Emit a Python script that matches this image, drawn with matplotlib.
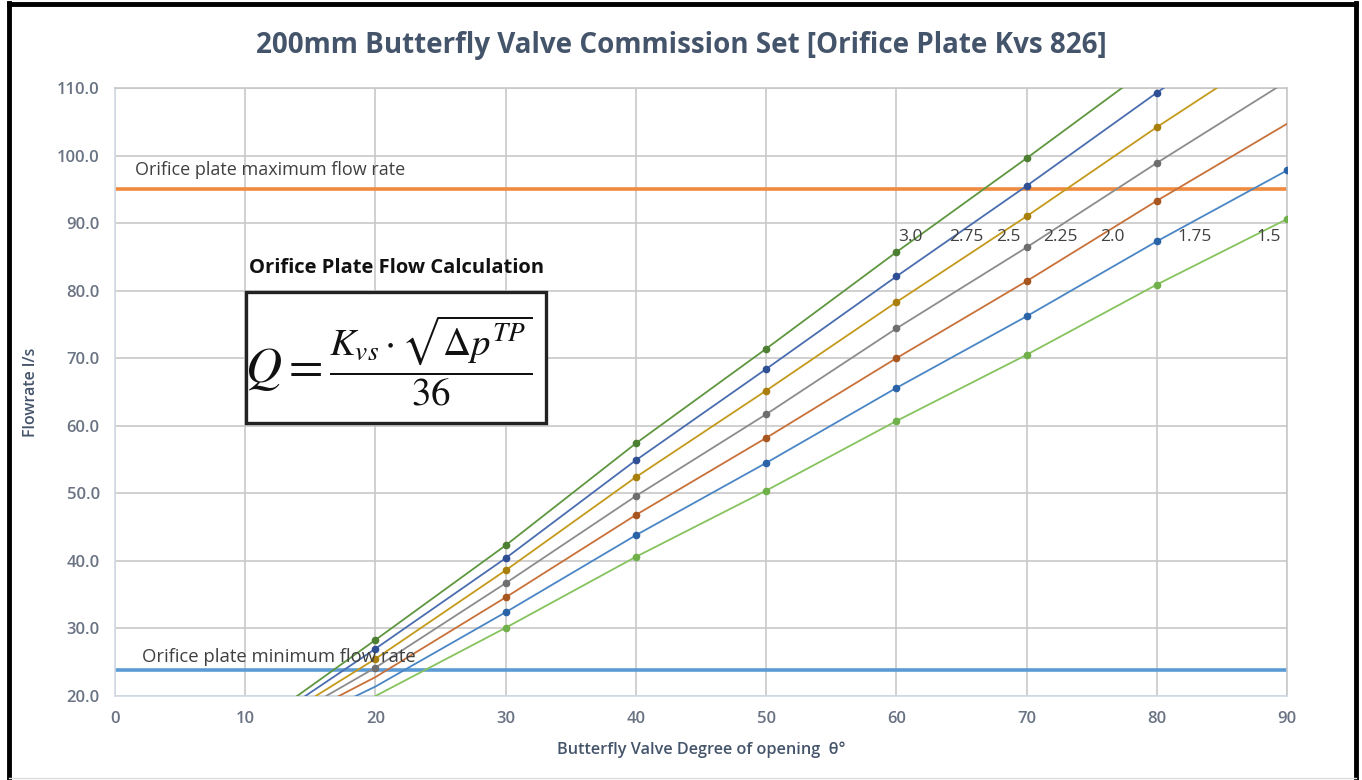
import matplotlib
matplotlib.use("Agg")
import matplotlib.pyplot as plt
from matplotlib.patches import Rectangle
import numpy as np

plt.rcParams['font.family'] = ['Open Sans', 'DejaVu Sans']
plt.rcParams['mathtext.fontset'] = 'stix'

# ---- data ----
angles = [10, 20, 30, 40, 50, 60, 70, 80, 90]
dp_labels = ["3.0", "2.75", "2.5", "2.25", "2.0", "1.75", "1.5"]
flow_30 = [14.5, 28.3, 42.3, 57.4, 71.4, 85.7, 99.6, 113.8, 128.0]
flow_275 = [14.0, 27.0, 40.4, 54.9, 68.4, 82.1, 95.5, 109.3, 122.7]
flow_25 = [13.5, 25.5, 38.6, 52.4, 65.2, 78.3, 91.0, 104.2, 116.8]
flow_225 = [13.1, 24.2, 36.7, 49.6, 61.7, 74.4, 86.4, 98.9, 111.0]
flow_20 = [12.8, 22.8, 34.6, 46.8, 58.2, 70.0, 81.4, 93.3, 104.7]
flow_175 = [12.1, 21.4, 32.4, 43.8, 54.5, 65.6, 76.2, 87.3, 97.8]
flow_15 = [10.0, 20.0, 30.1, 40.6, 50.4, 60.7, 70.5, 80.9, 90.6]
# first / last angle at which a measured point (marker) is shown
marker_first = [20, 20, 20, 20, 30, 30, 30]
marker_last = [80, 80, 80, 80, 80, 90, 90]
series = [flow_30, flow_275, flow_25, flow_225, flow_20, flow_175, flow_15]
# label positions (degree) along top-right
label_x = [61.1, 65.4, 68.6, 72.6, 76.6, 82.9, 88.6]
label_y = 87.9

max_flow = 95.0
min_flow = 23.9

colors = ["#5f9640", "#4a6db0", "#c49a1c", "#8c8c8c", "#c8713a", "#4a86c5", "#86c35e"]
mcolors = ["#4d7f32", "#2f4f95", "#a87f0c", "#6e6e6e", "#a8561f", "#2b64a6", "#6fb04a"]

fig = plt.figure(figsize=(13.62, 7.80), dpi=100)
ax = fig.add_axes([115/1362, 1-696/780, (1287-115)/1362, (696-88)/780])

ax.set_xlim(0, 90)
ax.set_ylim(20, 110)
ax.set_xticks(np.arange(0, 91, 10))
ax.set_yticks(np.arange(20, 111, 10))
ax.set_yticklabels([f"{v:.1f}" for v in np.arange(20, 111, 10)])
ax.grid(True, color="#c8c8c8", lw=1.2, zorder=0)
ax.set_axisbelow(True)
ax.tick_params(length=0, labelsize=12, labelcolor="#6a7383", pad=11)
for lab in ax.get_xticklabels() + ax.get_yticklabels():
    lab.set_fontweight("semibold")
for s in ["top", "right"]:
    ax.spines[s].set_color("#c8c8c8")
    ax.spines[s].set_linewidth(1.2)
for s in ["left", "bottom"]:
    ax.spines[s].set_color("#d3dae4")
    ax.spines[s].set_linewidth(1.2)

ax.axhline(max_flow, color="#f08a3e", lw=2.6, zorder=2)
ax.axhline(min_flow, color="#5b9bd5", lw=2.6, zorder=2)

for vals, c, mc, mf, ml in zip(series, colors, mcolors, marker_first, marker_last):
    ax.plot(angles, vals, color=c, lw=1.3, zorder=3)
    mx = [a for a in angles if mf <= a <= ml]
    my = [v for a, v in zip(angles, vals) if mf <= a <= ml]
    ax.plot(mx, my, ls="none", marker="o", ms=4.5, color=mc, zorder=4)

for lx, lab in zip(label_x, dp_labels):
    ax.text(lx, label_y, lab, ha="center", va="center", fontsize=12.5,
            color="#404040", zorder=5)

ax.text(1.5, 97.9, "Orifice plate maximum flow rate", ha="left", va="center",
        fontsize=13, color="#404040", zorder=5)
ax.text(2.1, 25.8, "Orifice plate minimum flow rate", ha="left", va="center",
        fontsize=13.3, color="#404040", zorder=5)

# formula box
ax.text(21.6, 83.35, "Orifice Plate Flow Calculation", ha="center", va="center",
        fontsize=14.5, fontweight="bold", color="#111111", zorder=6)
ax.add_patch(Rectangle((10.06, 60.4), 23.04, 19.4, facecolor="white",
                       edgecolor="#222222", lw=2.4, zorder=6))
ax.text(15.9, 68.3, r"$Q=$", ha="right", va="center", fontsize=36,
        color="#111111", zorder=7)
ax.text(24.3, 69.6, r"$\dfrac{K_{vs}\cdot\sqrt{\Delta p^{TP}}}{36}$",
        ha="center", va="center", fontsize=28, color="#111111", zorder=7)

ax.set_ylabel("Flowrate l/s", fontsize=11.5, color="#44546a", fontweight="semibold",
              labelpad=13)
ax.set_xlabel("Butterfly Valve Degree of opening  θ°", fontsize=11.7,
              color="#44546a", fontweight="semibold", labelpad=10)

fig.text(0.5, 1-45/780, "200mm Butterfly Valve Commission Set [Orifice Plate Kvs 826]",
         ha="center", va="center", fontsize=20, fontweight="bold", color="#44546a")

# outer frame
fig.add_artist(plt.Line2D([9/1362, 9/1362], [0, 1-3/780], color="black", lw=3.5,
                          transform=fig.transFigure))
fig.add_artist(plt.Line2D([1356/1362, 1356/1362], [0, 1-3/780], color="black", lw=3.5,
                          transform=fig.transFigure))
fig.add_artist(plt.Line2D([9/1362, 1356/1362], [1-4/780, 1-4/780], color="black", lw=3.5,
                          transform=fig.transFigure))
fig.add_artist(plt.Line2D([9/1362, 1356/1362], [2/780, 2/780], color="#dddddd", lw=1,
                          transform=fig.transFigure))

fig.savefig("out.png", dpi=100)
